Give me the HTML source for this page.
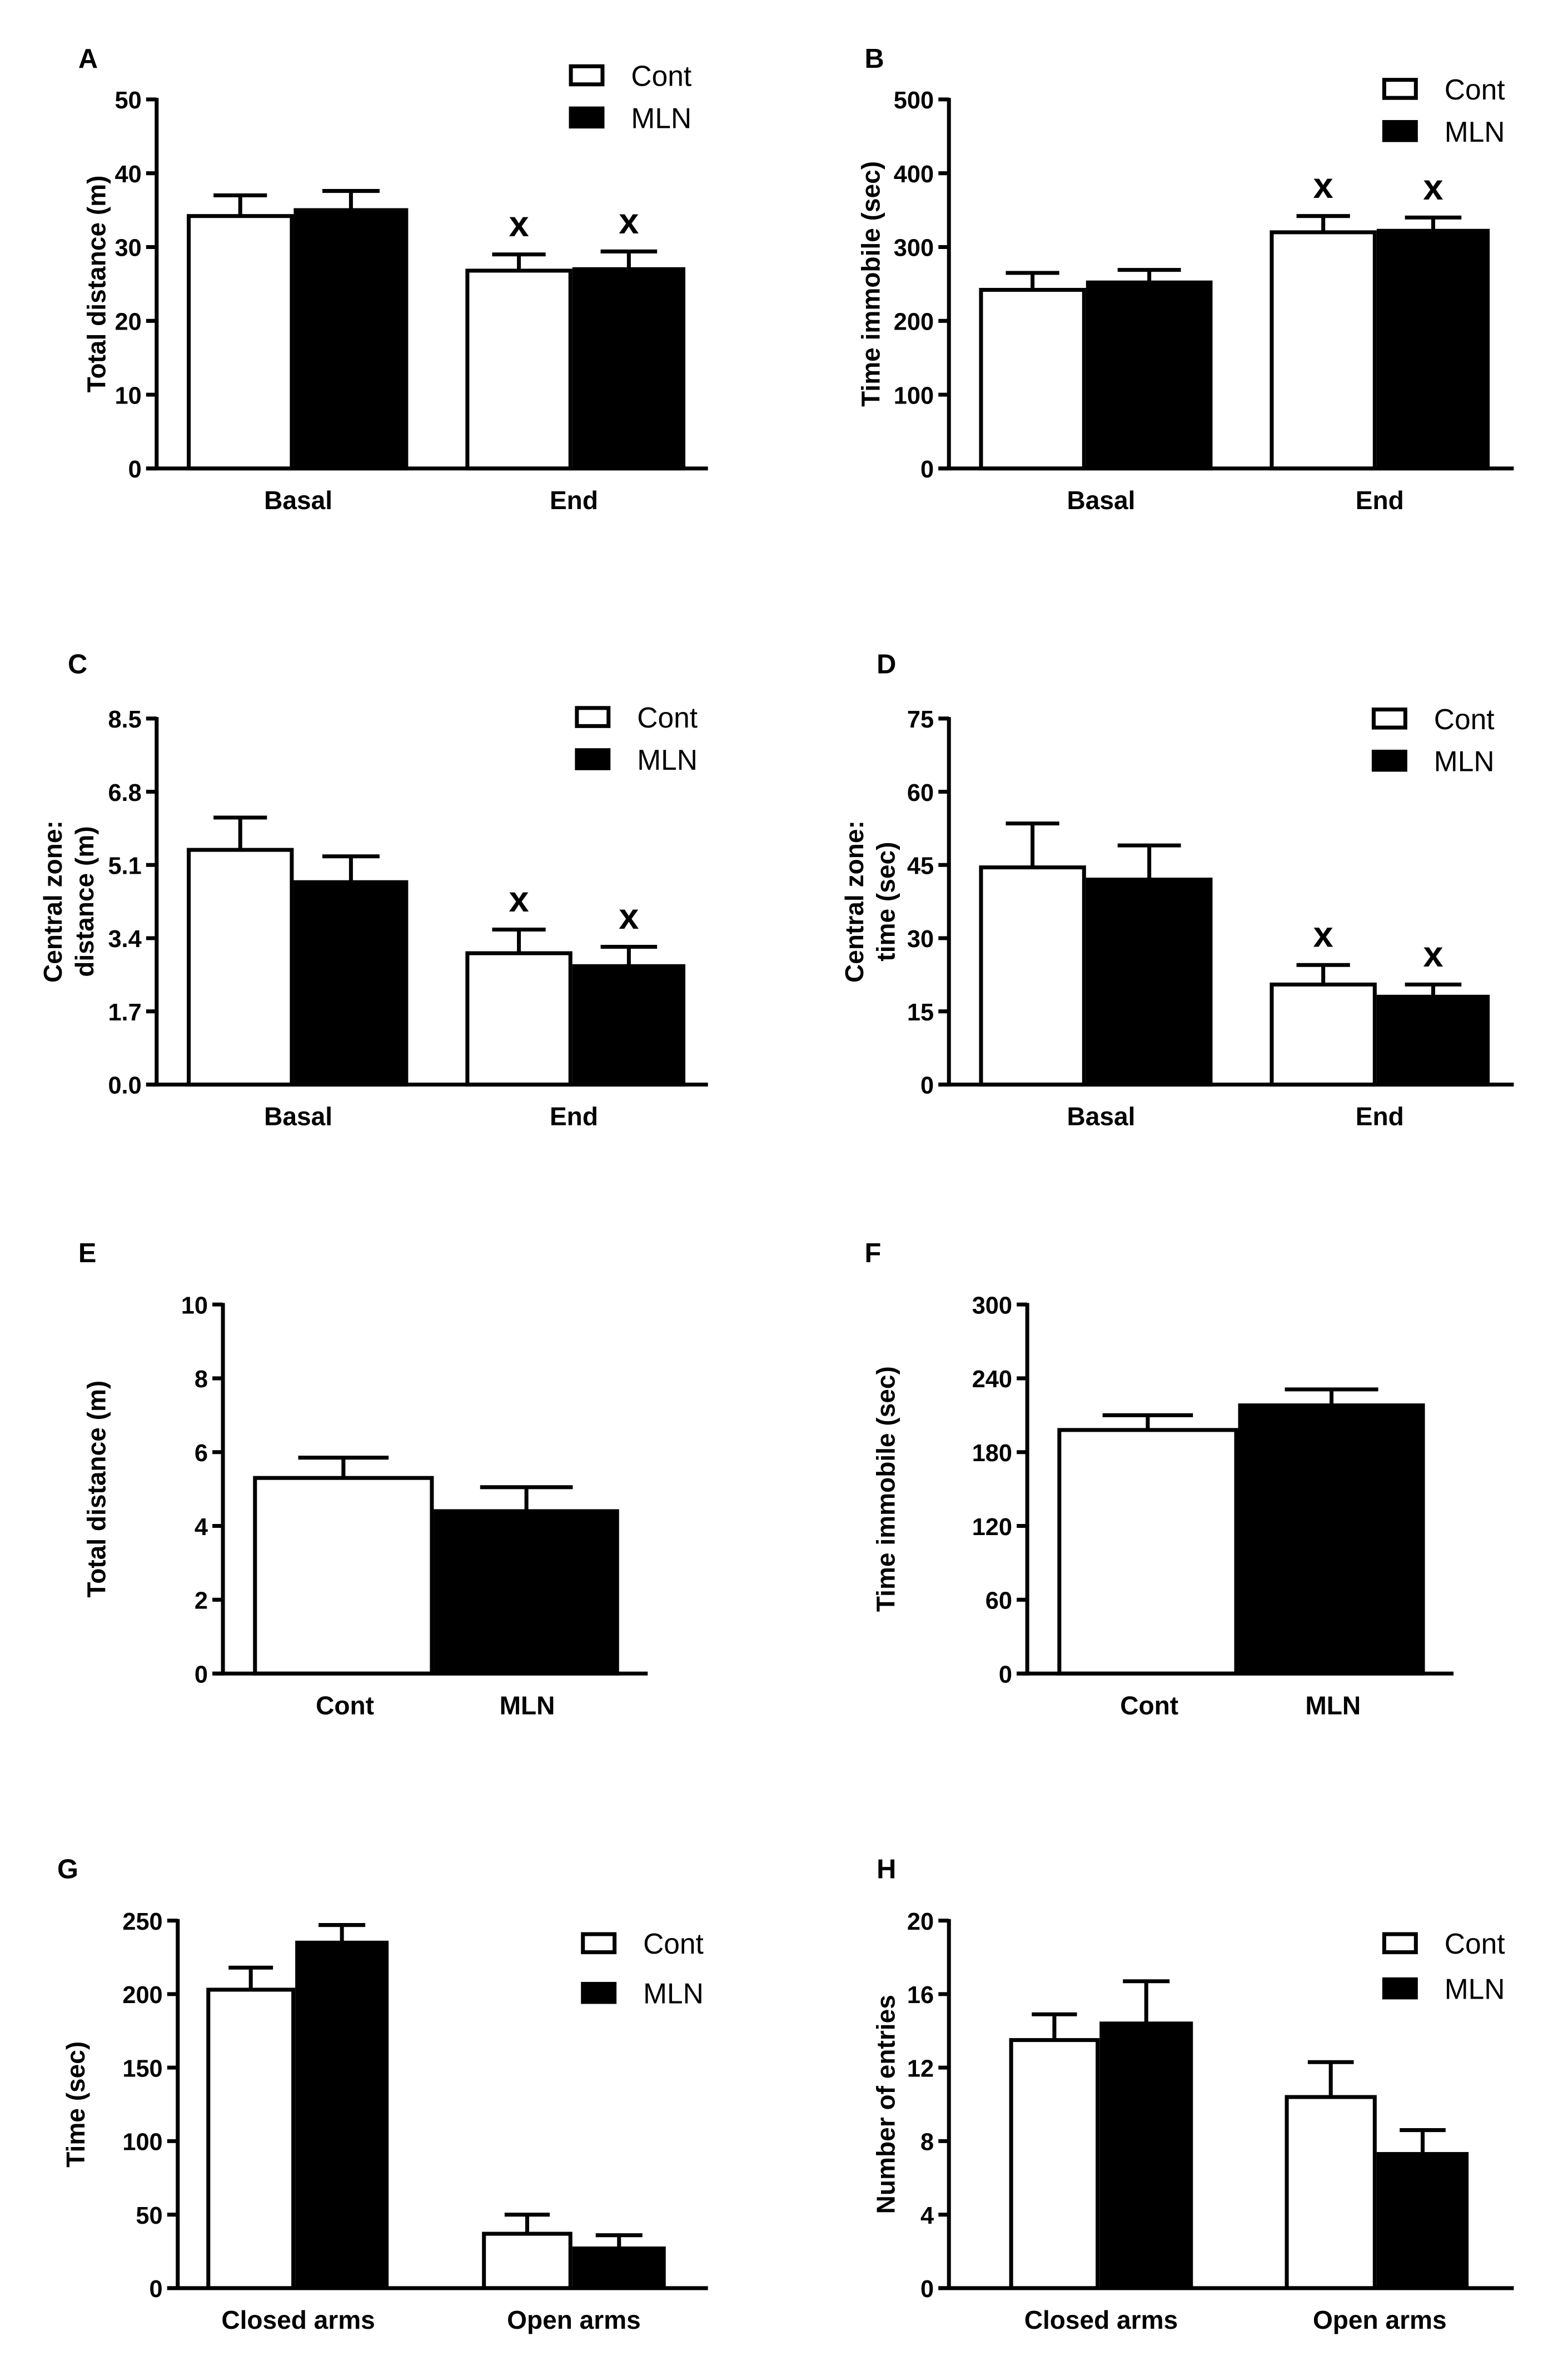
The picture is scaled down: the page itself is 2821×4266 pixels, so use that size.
<!DOCTYPE html>
<html><head><meta charset="utf-8"><style>
html,body{margin:0;padding:0;background:#fff;}
svg{display:block;}
text{font-family:"Liberation Sans",Arial,sans-serif;font-weight:bold;fill:#000;}
</style></head><body>
<svg id="fig" width="2821" height="4266" viewBox="0 0 1041 1574" preserveAspectRatio="none" xmlns="http://www.w3.org/2000/svg"></svg>
<script>
const aCats=["Basal","End"], aCont=[34.2,26.8], aContErr=[2.8,2.2], aMln=[35,27], aMlnErr=[2.6,2.4], aTicks=["0","10","20","30","40","50"];
const bCats=["Basal","End"], bCont=[242,320], bContErr=[23,22], bMln=[252,322], bMlnErr=[17,18], bTicks=["0","100","200","300","400","500"];
const cCats=["Basal","End"], cCont=[5.45,3.05], cContErr=[0.75,0.55], cMln=[4.7,2.75], cMlnErr=[0.6,0.45], cTicks=["0.0","1.7","3.4","5.1","6.8","8.5"];
const dCats=["Basal","End"], dCont=[44.5,20.5], dContErr=[9,4], dMln=[42,18], dMlnErr=[7,2.5], dTicks=["0","15","30","45","60","75"];
const eCats=["Cont","MLN"], eVals=[5.3,4.4], eErr=[0.55,0.65], eTicks=["0","2","4","6","8","10"];
const fCats=["Cont","MLN"], fVals=[198,218], fErr=[12,13], fTicks=["0","60","120","180","240","300"];
const gCats=["Closed arms","Open arms"], gCont=[203,37], gContErr=[15,13], gMln=[235,27], gMlnErr=[12,9], gTicks=["0","50","100","150","200","250"];
const hCats=["Closed arms","Open arms"], hCont=[13.5,10.4], hContErr=[1.4,1.9], hMln=[14.4,7.3], hMlnErr=[2.3,1.3], hTicks=["0","4","8","12","16","20"];

const NS="http://www.w3.org/2000/svg";
const svg=document.getElementById('fig');
function el(tag,attrs,parent){const e=document.createElementNS(NS,tag);for(const k in attrs)e.setAttribute(k,attrs[k]);(parent||svg).appendChild(e);return e;}
function txt(s,x,y,size,anchor,parent,weight){const t=el('text',{x:x,y:y,'font-size':size,'text-anchor':anchor||'middle'},parent);if(weight)t.style.fontWeight=weight;t.textContent=s;return t;}

function panel(p){
  const g=el('g',{});
  
  
  const max=parseFloat(p.ticks[p.ticks.length-1]);
  const y=v=>p.bot-(v/max)*(p.bot-p.top);
  const lt=txt(p.id,p.lx,p.ly,18,'start',g);
  
  
  p.series.forEach((s,si)=>{
    s.vals.forEach((v,i)=>{
      const x0=p.barX[i][si], x1=p.barX[i][si+1];
      const top=y(v), et=y(v+s.err[i]);
      const cx=(x0+x1)/2, cw=(x1-x0)/4;
      const ln=el('line',{x1:cx,x2:cx,y1:top,y2:et,stroke:'#000','stroke-width':2.6},g);
      
      
      el('line',{x1:cx-cw,x2:cx+cw,y1:et,y2:et,stroke:'#000','stroke-width':2.6},g);
      const r=el('rect',{x:x0+1.3,y:top,width:x1-x0-2.6,height:p.bot-top,fill:s.fill,stroke:'#000','stroke-width':2.6},g);
      
      
      if(p.sig && p.sig[si][i]){const m=txt('x',cx,y(v+s.err[i])-12,24,'middle',g);}
    });
  });
  const ya=el('line',{x1:p.ax,x2:p.ax,y1:p.top-1,y2:p.bot+1.3,stroke:'#000','stroke-width':2.6},g);
  
  
  const xa=el('line',{x1:p.ax-7,x2:p.xEnd,y1:p.bot,y2:p.bot,stroke:'#000','stroke-width':2.6},g);
  
  
  p.ticks.forEach(t=>{
    const yy=y(parseFloat(t));
    el('line',{x1:p.ax-7,x2:p.ax,y1:yy,y2:yy,stroke:'#000','stroke-width':2.6},g);
    const tl=txt(t,p.ax-10,yy+6,16,'end',g);
    
    
  });
  p.cats.forEach((c,i)=>{
    const cl=txt(c,p.catX[i],p.bot+27,17,'middle',g);
    
    
  });
  const tg=el('g',{transform:`translate(${p.tx},${(p.top+p.bot)/2}) rotate(-90)`},g);
  
  
  p.title.forEach((line,k)=>{txt(line,0,k*21-(p.title.length-1)*21+6,17,'middle',tg);});
  if(p.leg){
    [['Cont','#fff'],['MLN','#000']].forEach((L,k)=>{
      const ly=p.leg[1]+k*p.leg[2];
      const lg=el('g',{},g);
      
      
      el('rect',{x:p.leg[0],y:ly-6,width:21,height:12,fill:L[1],stroke:'#000','stroke-width':2.6},lg);
      txt(L[0],p.leg[0]+40,ly+7,19,'start',lg,'normal');
    });
  }
}
function two(cont,contErr,mln,mlnErr){return [{name:'Cont',fill:'#fff',vals:cont,err:contErr},{name:'MLN',fill:'#000',vals:mln,err:mlnErr}];}

panel({id:'A',lx:52,ly:45,ax:104,top:66,bot:311,xEnd:470,ticks:aTicks,cats:aCats,series:two(aCont,aContErr,aMln,aMlnErr),barX:[[124,195,271],[309,380,455]],catX:[198,381],title:['Total distance (m)'],tx:64,leg:[379,50,28],sig:[[0,1],[0,1]]});
panel({id:'B',lx:574,ly:45,ax:630,top:66,bot:311,xEnd:1005,ticks:bTicks,cats:bCats,series:two(bCont,bContErr,bMln,bMlnErr),barX:[[650,721,805],[843,914,989]],catX:[731,916],title:['Time immobile (sec)'],tx:578,leg:[919,59,28],sig:[[0,1],[0,1]]});
panel({id:'C',lx:45,ly:447,ax:104,top:477,bot:720,xEnd:470,ticks:cTicks,cats:cCats,series:two(cCont,cContErr,cMln,cMlnErr),barX:[[124,195,271],[309,380,455]],catX:[198,381],title:['Central zone:','distance (m)'],tx:56,leg:[383,476,28],sig:[[0,1],[0,1]]});
panel({id:'D',lx:582,ly:447,ax:630,top:477,bot:720,xEnd:1005,ticks:dTicks,cats:dCats,series:two(dCont,dContErr,dMln,dMlnErr),barX:[[650,721,805],[843,914,989]],catX:[731,916],title:['Central zone:','time (sec)'],tx:588,leg:[912,477,28],sig:[[0,1],[0,1]]});
panel({id:'E',lx:52,ly:838,ax:148,top:866,bot:1111,xEnd:430,ticks:eTicks,cats:eCats,series:[{name:'Cont',fill:'#fff',vals:[eVals[0]],err:[eErr[0]]},{name:'MLN',fill:'#000',vals:[eVals[1]],err:[eErr[1]]}],barX:[[168,288,411]],catX:[229,350],title:['Total distance (m)'],tx:64});
panel({id:'F',lx:574,ly:838,ax:682,top:866,bot:1111,xEnd:965,ticks:fTicks,cats:fCats,series:[{name:'Cont',fill:'#fff',vals:[fVals[0]],err:[fErr[0]]},{name:'MLN',fill:'#000',vals:[fVals[1]],err:[fErr[1]]}],barX:[[702,822,946]],catX:[763,885],title:['Time immobile (sec)'],tx:588});
panel({id:'G',lx:38,ly:1247,ax:118,top:1275,bot:1519,xEnd:470,ticks:gTicks,cats:gCats,series:two(gCont,gContErr,gMln,gMlnErr),barX:[[137,196,258],[320,380,442]],catX:[198,381],title:['Time (sec)'],tx:50,leg:[387,1290,33]});
panel({id:'H',lx:582,ly:1247,ax:630,top:1275,bot:1519,xEnd:1005,ticks:hTicks,cats:hCats,series:two(hCont,hContErr,hMln,hMlnErr),barX:[[670,730,792],[853,914,975]],catX:[731,916],title:['Number of entries'],tx:588,leg:[919,1290,30]});
</script>
</body></html>
